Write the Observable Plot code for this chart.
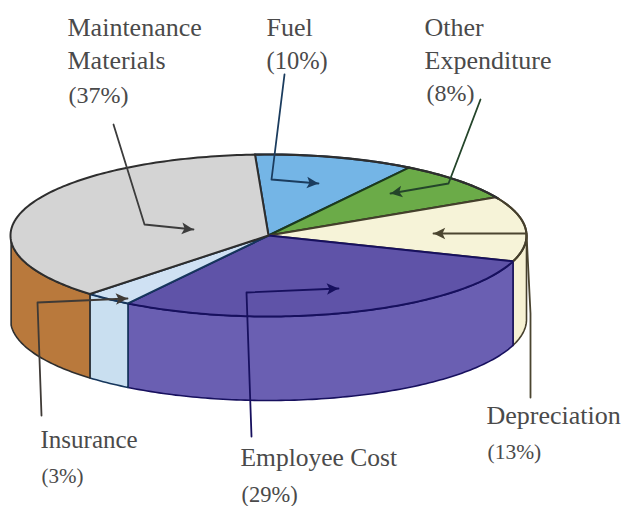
<!DOCTYPE html>
<html>
<head>
<meta charset="utf-8">
<script src="https://cdn.jsdelivr.net/npm/d3@7"></script>
<script src="https://cdn.jsdelivr.net/npm/@observablehq/plot@0.6"></script>
<style>html,body{margin:0;padding:0;background:#fff}svg{display:block}</style>
</head>
<body>
<div id="chart"></div>
<script>
// --- chart values ---
const categories = ["Fuel", "Other Expenditure", "Depreciation", "Employee Cost", "Insurance", "Maintenance Materials"];
const shares = [10, 8, 13, 29, 3, 37];

// --- styles ---
const topColors  = ["#74b5e6", "#6bab48", "#f6f3d8", "#5f53a8", "#cfe1f3", "#d4d4d4"];
const wallColors = ["#74b5e6", "#6bab48", "#f6f1d3", "#6a5fb2", "#c9dff0", "#b9793c"];
const edgeColors = ["#16365c", "#1c3a1c", "#453f2c", "#17105e", "#16365c", "#2e2e2e"];

// --- layout (data space of the x/y scales) ---
const cx = 268, cy = 235, rx = 258, ry = 81, depth = 84, startDeg = 93;

const labelLines = [
  ["Maintenance", 67, 35, 26], ["Materials", 67, 68, 26], ["(37%)", 68, 102, 24],
  ["Fuel", 266, 35, 26], ["(10%)", 266, 68, 24.5],
  ["Other", 424, 35, 26], ["Expenditure", 424, 68, 26], ["(8%)", 426, 100, 24],
  ["Depreciation", 486, 423, 26], ["(13%)", 487, 458, 21.5],
  ["Insurance", 40, 447, 25], ["(3%)", 41, 482, 21],
  ["Employee Cost", 240, 465, 25.5], ["(29%)", 241, 501, 22.5]
];
const leaders = [
  {color: "#3c3c3c", path: [[113,124],[144,224],[193,229]]},
  {color: "#1b3c5e", path: [[284,74],[271,179],[318,183]]},
  {color: "#24452a", path: [[480,99],[448,183],[390,193]]},
  {color: "#4b4530", path: [[530,397],[530,313],[526,233],[433,233]]},
  {color: "#17105e", path: [[251,436],[246,292],[338,288]]},
  {color: "#3f3a36", path: [[41,415],[37,302],[127,298]]}
];

// --- geometry from the shares ---
const at = (deg, dy = 0) => {
  const t = deg * Math.PI / 180;
  return [cx + rx * Math.cos(t), cy - ry * Math.sin(t) + dy];
};
const arc = (a, b, dy = 0) => {
  const n = Math.max(2, Math.ceil(Math.abs(a - b)));
  return d3.range(n + 1).map(i => at(a + (b - a) * i / n, dy));
};
let cursor = startDeg;
const slices = shares.map((s, i) => {
  const a = cursor, b = cursor - s * 3.6;
  cursor = b;
  return {i, a, b};
});

const marks = [];
// walls first (only the front half of the rim is visible)
for (const {i, a, b} of slices) {
  const lo = Math.max(b, -176), hi = Math.min(a, 0);
  if (lo >= hi) continue;
  const poly = [...arc(hi, lo), ...arc(lo, hi, depth)];
  poly.push(poly[0]);
  marks.push(Plot.line(poly, {x: d => d[0], y: d => d[1], fill: wallColors[i], stroke: edgeColors[i], strokeWidth: 1.6, curve: "linear"}));
}
// top face
for (const {i, a, b} of slices) {
  const poly = [[cx, cy], ...arc(a, b), [cx, cy]];
  marks.push(Plot.line(poly, {x: d => d[0], y: d => d[1], fill: topColors[i], stroke: edgeColors[i], strokeWidth: 2, strokeLinejoin: "round", curve: "linear"}));
}
// dark rim of the back of the pie
marks.push(Plot.line(arc(93, 27), {x: d => d[0], y: d => d[1], stroke: "#2e2e2e", strokeWidth: 2.2}));
marks.push(Plot.line(arc(27, -18), {x: d => d[0], y: d => d[1], stroke: "#453f2c", strokeWidth: 2}));

// leaders + arrowheads
const head = {draw(c, size) {
  const s = Math.sqrt(size);
  c.moveTo(0, 0); c.lineTo(0.75 * s, 1.5 * s); c.lineTo(0, 1.15 * s); c.lineTo(-0.75 * s, 1.5 * s); c.closePath();
}};
for (const {color, path} of leaders) {
  const [p, q] = path.slice(-2);
  const rot = Math.atan2(q[0] - p[0], -(q[1] - p[1])) * 180 / Math.PI;
  marks.push(Plot.line(path, {x: d => d[0], y: d => d[1], stroke: color, strokeWidth: 1.8, strokeLinejoin: "round"}));
  marks.push(Plot.dot([q], {x: d => d[0], y: d => d[1], r: 4.4, symbol: head, fill: color, stroke: "none", rotate: rot}));
}
// labels
marks.push(Plot.text(labelLines, {
  x: d => d[1], y: d => d[2], text: d => d[0], fontSize: d => d[3],
  textAnchor: "start", lineAnchor: "bottom", fontFamily: "Liberation Serif", fill: "#4a4a4a"
}));

const plot = Plot.plot({
  width: 625, height: 506, margin: 0,
  x: {domain: [0, 625], axis: null},
  y: {domain: [506, 0], axis: null},
  style: {background: "#fff"},
  marks
});
document.getElementById("chart").append(plot);
</script>
</body>
</html>
